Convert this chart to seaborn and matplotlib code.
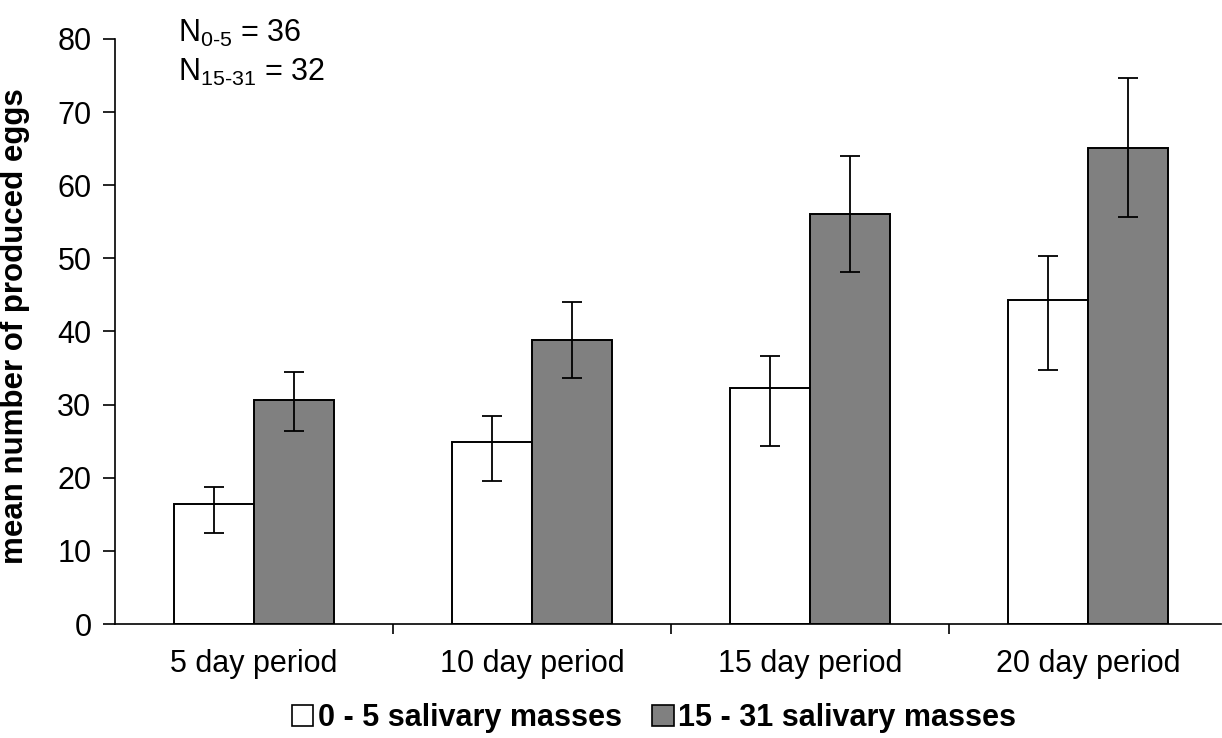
import numpy as np
import pandas as pd
import matplotlib
matplotlib.use("Agg")
import matplotlib.pyplot as plt
import seaborn as sns
from matplotlib.patches import Patch

periods = ["5 day period", "10 day period", "15 day period", "20 day period"]
groups = ["0 - 5 salivary masses", "15 - 31 salivary masses"]
low_mean = [16.4, 24.9, 32.3, 44.3]
low_upper = [18.8, 28.5, 36.6, 50.3]
low_lower = [12.5, 19.6, 24.3, 34.7]
high_mean = [30.6, 38.8, 56.0, 65.1]
high_upper = [34.5, 44.0, 64.0, 74.7]
high_lower = [26.4, 33.6, 48.1, 55.7]
yticks = [0, 10, 20, 30, 40, 50, 60, 70, 80]

sns.set_theme(style="white")
plt.rcParams["font.family"] = ["Liberation Sans", "DejaVu Sans"]
plt.rcParams["mathtext.fontset"] = "custom"
plt.rcParams["mathtext.rm"] = "Liberation Sans"
plt.rcParams["mathtext.it"] = "Liberation Sans"
for k in ["text.color", "axes.labelcolor", "xtick.color", "ytick.color", "xtick.labelcolor", "ytick.labelcolor"]:
    plt.rcParams[k] = "black"

df = pd.DataFrame({
    "period": periods * 2,
    "group": [groups[0]] * 4 + [groups[1]] * 4,
    "mean": low_mean + high_mean,
})

fig = plt.figure(figsize=(12.22, 7.38), dpi=100)
ax = fig.add_axes([115 / 1222, 114 / 738, 1106 / 1222, 585 / 738])

sns.barplot(data=df, x="period", y="mean", hue="group", order=periods,
            hue_order=groups, palette=["white", "#808080"], width=0.576,
            gap=0, errorbar=None, edgecolor="black", linewidth=1.4,
            legend=False, ax=ax)

bars = ax.patches
uppers = low_upper + high_upper
lowers = low_lower + high_lower
means = low_mean + high_mean
for bar, m, u, l in zip(bars, means, uppers, lowers):
    cx = bar.get_x() + bar.get_width() / 2
    ax.errorbar([cx], [m], yerr=[[m - l], [u - m]], fmt="none",
                ecolor="black", elinewidth=1.3, capsize=7, capthick=1.3)

ax.set_ylim(0, 80)
ax.set_xlim(-0.5, -0.5 + 1106 / 278)
ax.set_yticks(yticks)
ax.tick_params(axis="y", labelsize=22, length=9, width=1.2, direction="out",
               color="black", labelcolor="black", pad=8, left=True)
ax.set_xticks(range(len(periods)))
ax.set_xticklabels(periods)
ax.tick_params(axis="x", which="major", labelsize=22, length=0, pad=18,
               labelcolor="black")
ax.set_xticks([0.5, 1.5, 2.5], minor=True)
ax.tick_params(axis="x", which="minor", length=7, width=1.2, direction="out",
               color="black", bottom=True)
ax.set_xlabel("")
ax.set_ylabel("mean number of produced eggs", fontsize=22.5, fontweight="bold",
              color="black")
ax.yaxis.set_label_coords(-0.077, 0.51)
for s in ["top", "right"]:
    ax.spines[s].set_visible(False)
for s in ["left", "bottom"]:
    ax.spines[s].set_color("black")
    ax.spines[s].set_linewidth(1.2)

fig.text(178 / 1222, 1 - 33 / 738, r"N$_{\text{0-5}}$ = 36", fontsize=22,
         va="center", ha="left", color="black")
fig.text(178 / 1222, 1 - 72 / 738, r"N$_{\text{15-31}}$ = 32", fontsize=22,
         va="center", ha="left", color="black")

handles = [Patch(facecolor="white", edgecolor="black", linewidth=1.2),
           Patch(facecolor="#808080", edgecolor="black", linewidth=1.2)]
fig.legend(handles, groups, loc="center", bbox_to_anchor=(654 / 1222, 1 - 718 / 738),
           ncol=2, frameon=False, prop={"size": 22, "weight": "bold"},
           labelcolor="black",
           handlelength=0.7, handleheight=0.7, handletextpad=0.15,
           columnspacing=1.0, borderaxespad=0)

fig.savefig("out.png", dpi=100)
